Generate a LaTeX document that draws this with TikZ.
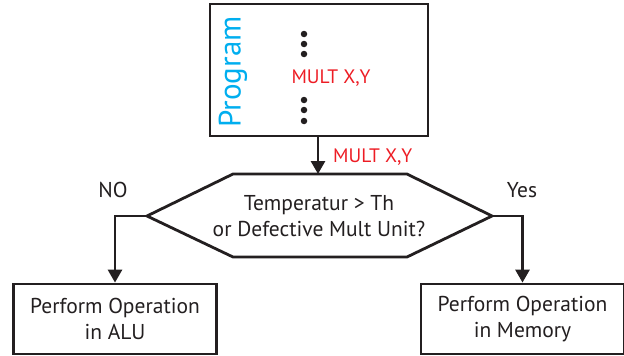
\documentclass[tikz,border=0pt]{standalone}
\usepackage{fontspec}
\setmainfont{PT Sans}
\usetikzlibrary{arrows.meta}
\definecolor{progcyan}{HTML}{00AEEF}
\definecolor{multred}{HTML}{ED1C24}
\definecolor{ink}{HTML}{231F20}
\begin{document}
\begin{tikzpicture}[x=1pt,y=-1pt,
  box/.style={draw=ink, line width=2.8pt, inner sep=0pt},
  conn/.style={draw=ink, line width=2.8pt, -{Triangle[length=13pt,width=14pt]}},
  lbl/.style={text=ink, font=\fontsize{21.5}{25.5}\selectfont, align=center, inner sep=0pt},
  redlbl/.style={text=multred, font=\fontsize{19.5}{23}\selectfont, inner sep=0pt},
  dotn/.style={circle, fill=ink, inner sep=0pt, minimum size=6.5pt}]
\useasboundingbox (0,0) rectangle (624,356);
% program box
\node[box, minimum width=218pt, minimum height=132pt] (prog) at (319,70) {};
\node[rotate=90, text=progcyan, font=\fontsize{31}{34}\selectfont, inner sep=0pt] (ptxt) at (233,72) {Program};
\node[dotn] (d1) at (304,34) {};
\node[dotn] (d2) at (304,44) {};
\node[dotn] (d3) at (304,54) {};
\node[redlbl] (mult) at (331,78) {MULT X,Y};
\node[dotn] (d4) at (304,100) {};
\node[dotn] (d5) at (304,110) {};
\node[dotn] (d6) at (304,121) {};
% decision hexagon
\coordinate (hexT) at (318,174);
\coordinate (hexL) at (147,216);
\coordinate (hexR) at (492,216);
\draw[draw=ink, line width=2.8pt, line join=miter]
  (233,174) -- (407,174) -- (hexR) -- (407,257) -- (233,257) -- (hexL) -- cycle;
\node[lbl] (dec) at (319,216) {Temperatur > Th\\or Defective Mult Unit?};
% result boxes
\node[box, minimum width=203pt, minimum height=70pt, lbl] (alu) at (115,319) {Perform Operation\\in ALU};
\node[box, minimum width=203pt, minimum height=70pt, lbl] (mem) at (522.5,319) {Perform Operation\\in Memory};
% connectors
\draw[conn] (prog.south -| hexT) -- (hexT);
\node[redlbl, anchor=west] (mult2) at (333,157) {MULT X,Y};
\draw[conn] (hexL) -| (alu.north);
\draw[conn] (hexR) -| (mem.north);
\node[lbl] (no) at (113,190) {NO};
\node[lbl] (yes) at (522,190) {Yes};
\end{tikzpicture}
\end{document}
